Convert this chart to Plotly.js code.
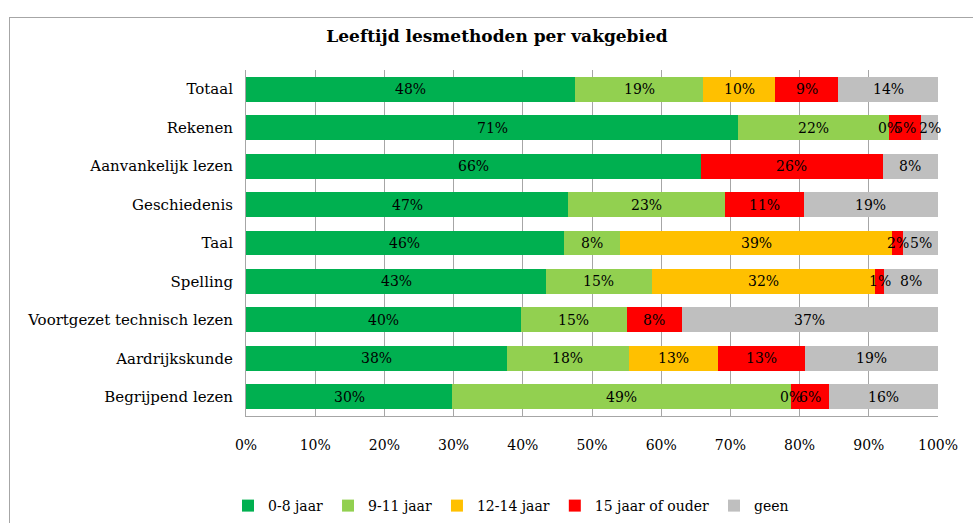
<!DOCTYPE html>
<html>
<head>
<meta charset="utf-8">
<script src="https://cdn.plot.ly/plotly-3.0.1.min.js"></script>
<style>
  html, body { margin: 0; padding: 0; background: #fff; overflow: hidden; }
  #wrap { position: relative; width: 973px; height: 523px; }
  #chart { position: absolute; left: 0; top: 0; width: 973px; height: 523px; }
  #frame { position: absolute; left: 9px; top: 17px; width: 1000px; height: 600px;
           border: 1px solid #A6A6A6; pointer-events: none; box-sizing: border-box; }
</style>
</head>
<body>
<div id="wrap">
  <div id="chart"></div>
  <div id="frame"></div>
</div>
<script>
const categories = ["Totaal", "Rekenen", "Aanvankelijk lezen", "Geschiedenis", "Taal",
  "Spelling", "Voortgezet technisch lezen", "Aardrijkskunde", "Begrijpend lezen"];
const seriesNames = ["0-8 jaar", "9-11 jaar", "12-14 jaar", "15 jaar of ouder", "geen"];
const colors = ["#00B050", "#92D050", "#FFC000", "#FF0000", "#BFBFBF"];

const jaar0_8   = [47.6, 71.1, 65.7, 46.6, 45.9, 43.4, 39.7, 37.7, 29.8];
const jaar9_11  = [18.5, 21.8, null, 22.6,  8.1, 15.2, 15.3, 17.6, 48.9];
const jaar12_14 = [10.4,  0.0, null, null, 39.4, 32.3, null, 12.9,  0.0];
const jaar15plus= [ 9.1,  4.7, 26.3, 11.4,  1.6,  1.3,  8.0, 12.6,  5.6];
const geen      = [14.4,  2.4,  8.0, 19.4,  5.0,  7.8, 37.0, 19.2, 15.7];

const series = [jaar0_8, jaar9_11, jaar12_14, jaar15plus, geen];
const tickVals = [0,10,20,30,40,50,60,70,80,90,100];
const tickText = tickVals.map(v => v + "%");

const FONT = "'Palatino Linotype', 'Book Antiqua', Palatino, 'DejaVu Serif', serif";

const traces = series.map((vals, i) => ({
  type: "bar",
  orientation: "h",
  name: seriesNames[i],
  y: categories,
  x: vals.map(v => v === null ? 0 : v),
  marker: { color: colors[i], line: { width: 0 } },
  hoverinfo: "name+x"
}));

const annotations = [];
categories.forEach((cat, ci) => {
  let cum = 0;
  series.forEach((vals) => {
    const v = vals[ci];
    if (v === null) return;
    annotations.push({
      x: cum + v / 2, y: cat, xref: "x", yref: "y",
      text: Math.round(v) + "%", showarrow: false,
      font: { family: FONT, size: 14, color: "#000" }
    });
    cum += v;
  });
});

const layout = {
  width: 973, height: 523,
  margin: { l: 246, r: 35, t: 70, b: 107, pad: 0, autoexpand: false },
  paper_bgcolor: "rgba(0,0,0,0)",
  plot_bgcolor: "#fff",
  barmode: "stack",
  bargap: 0.35,
  title: {
    text: "<b>Leeftijd lesmethoden per vakgebied</b>",
    font: { family: FONT, size: 17, color: "#000" },
    x: 497 / 973, xanchor: "center", xref: "container",
    y: 1 - 36 / 523, yanchor: "middle", yref: "container"
  },
  xaxis: {
    range: [0, 100], tickvals: tickVals, ticktext: tickText,
    showgrid: true, gridcolor: "#A6A6A6", gridwidth: 1,
    showline: true, linecolor: "#A6A6A6", linewidth: 1,
    zeroline: false, ticks: "", ticklabelstandoff: 16,
    tickfont: { family: FONT, size: 14, color: "#000" },
    fixedrange: true
  },
  yaxis: {
    autorange: "reversed", type: "category",
    showgrid: false, showline: true, linecolor: "#A6A6A6", linewidth: 1,
    zeroline: false, ticks: "", ticklabelstandoff: 9,
    tickfont: { family: FONT, size: 15, color: "#000" },
    fixedrange: true
  },
  showlegend: true,
  legend: {
    orientation: "h", x: (511 - 246) / 692, xanchor: "center",
    y: 1 - 506 / 523, yanchor: "middle", yref: "container",
    font: { family: FONT, size: 14, color: "#000" },
    traceorder: "normal", itemwidth: 30, bgcolor: "rgba(0,0,0,0)"
  },
  annotations: annotations
};

Plotly.newPlot("chart", traces, layout, { displayModeBar: false, staticPlot: true });
</script>
</body>
</html>
